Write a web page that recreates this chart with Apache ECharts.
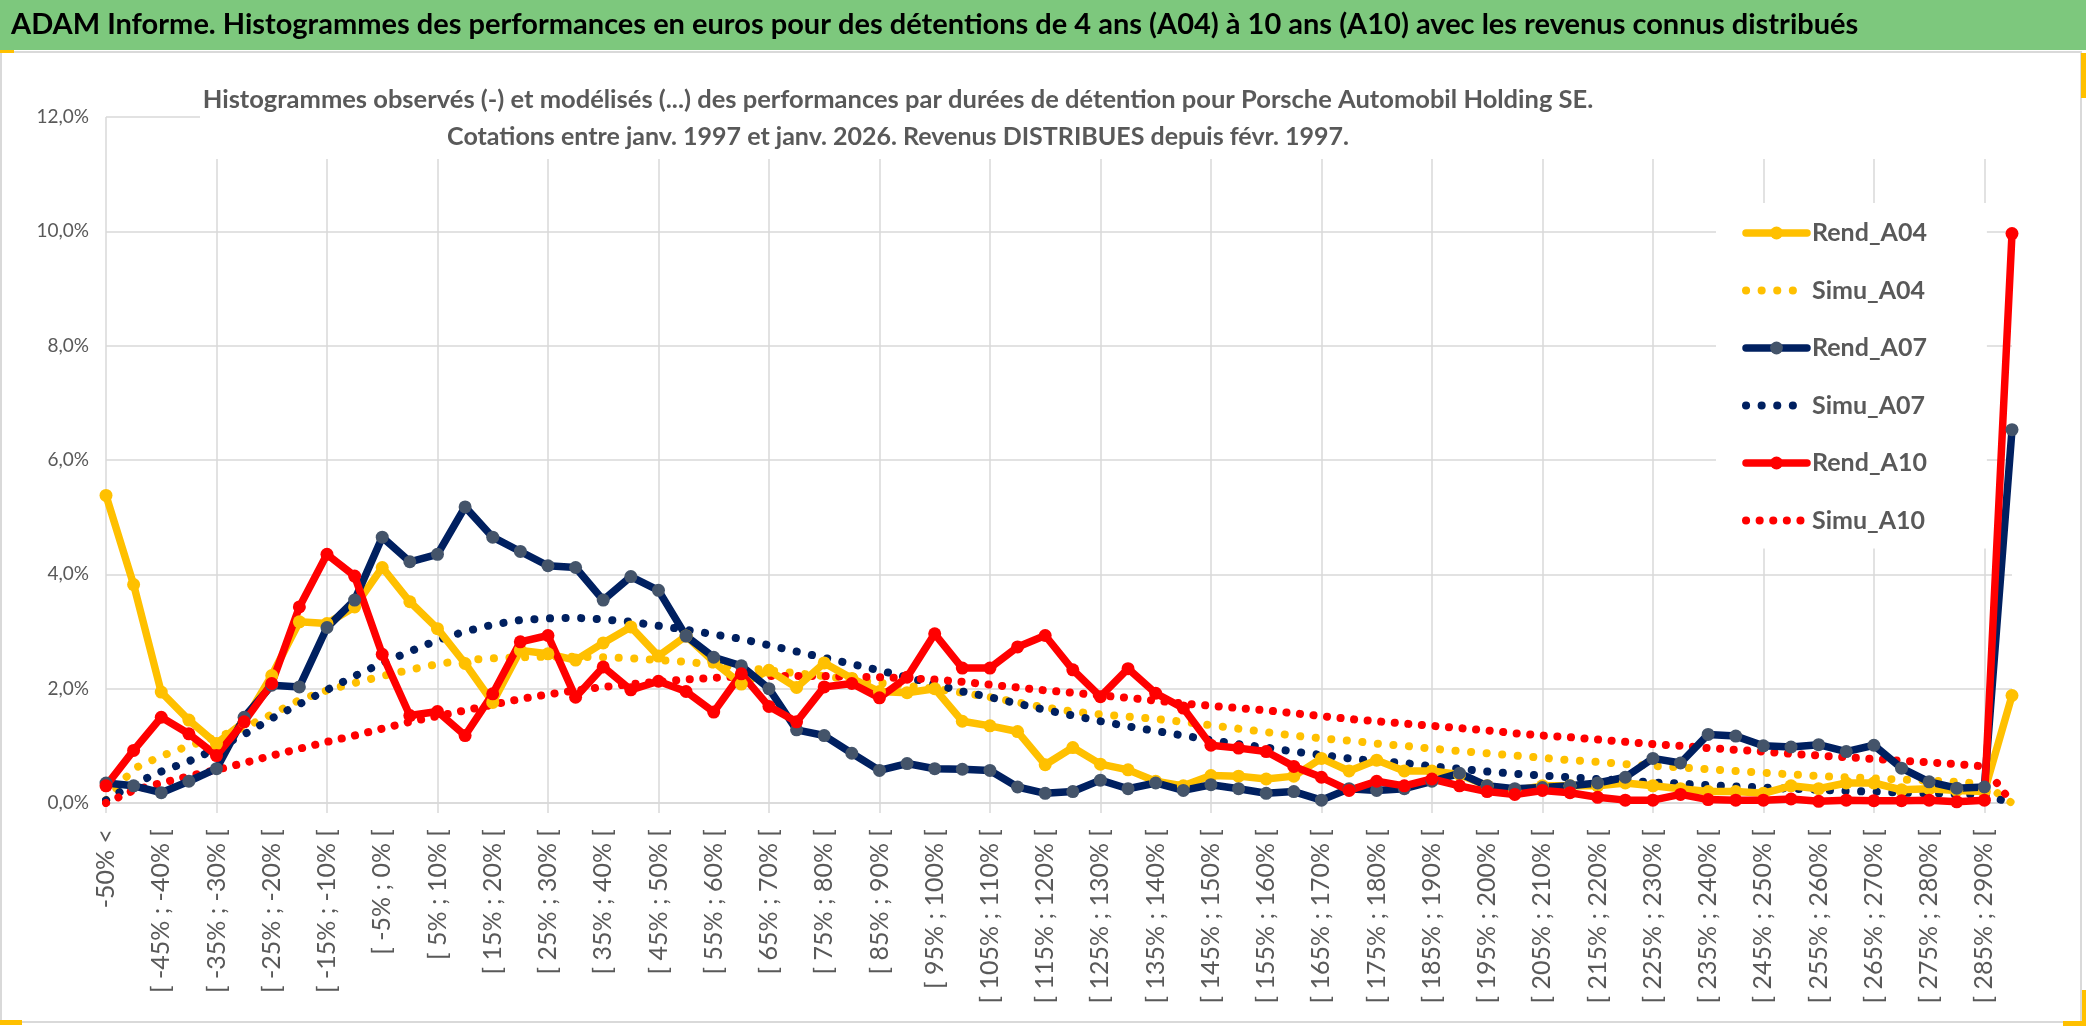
<!DOCTYPE html>
<html><head><meta charset="utf-8">
<script src="https://cdn.jsdelivr.net/npm/echarts@6/dist/echarts.min.js"></script>
<style>html,body{margin:0;padding:0;background:#fff}#c{width:2086px;height:1031px}</style>
</head><body><div id="c"></div>
<script>
const categories = [
"-50% <","[ -50% ; -45% [","[ -45% ; -40% [","[ -40% ; -35% [","[ -35% ; -30% [","[ -30% ; -25% [",
"[ -25% ; -20% [","[ -20% ; -15% [","[ -15% ; -10% [","[ -10% ; -5% [","[ -5% ; 0% [",
"[ 0% ; 5% [","[ 5% ; 10% [","[ 10% ; 15% [","[ 15% ; 20% [","[ 20% ; 25% [","[ 25% ; 30% [",
"[ 30% ; 35% [","[ 35% ; 40% [","[ 40% ; 45% [","[ 45% ; 50% [","[ 50% ; 55% [","[ 55% ; 60% [",
"[ 60% ; 65% [","[ 65% ; 70% [","[ 70% ; 75% [","[ 75% ; 80% [","[ 80% ; 85% [","[ 85% ; 90% [",
"[ 90% ; 95% [","[ 95% ; 100% [","[ 100% ; 105% [","[ 105% ; 110% [","[ 110% ; 115% [","[ 115% ; 120% [",
"[ 120% ; 125% [","[ 125% ; 130% [","[ 130% ; 135% [","[ 135% ; 140% [","[ 140% ; 145% [","[ 145% ; 150% [",
"[ 150% ; 155% [","[ 155% ; 160% [","[ 160% ; 165% [","[ 165% ; 170% [","[ 170% ; 175% [","[ 175% ; 180% [",
"[ 180% ; 185% [","[ 185% ; 190% [","[ 190% ; 195% [","[ 195% ; 200% [","[ 200% ; 205% [","[ 205% ; 210% [",
"[ 210% ; 215% [","[ 215% ; 220% [","[ 220% ; 225% [","[ 225% ; 230% [","[ 230% ; 235% [","[ 235% ; 240% [",
"[ 240% ; 245% [","[ 245% ; 250% [","[ 250% ; 255% [","[ 255% ; 260% [","[ 260% ; 265% [","[ 265% ; 270% [",
"[ 270% ; 275% [","[ 275% ; 280% [","[ 280% ; 285% [","[ 285% ; 290% [","> 290%"];

const rendA04 = [5.38,3.82,1.94,1.45,1.04,1.42,2.23,3.17,3.14,3.43,4.12,3.52,3.05,2.44,1.76,2.67,2.61,2.50,2.80,3.08,
2.57,2.92,2.47,2.08,2.32,2.02,2.45,2.18,1.95,1.93,2.00,1.43,1.35,1.25,0.67,0.97,0.68,0.58,0.38,0.30,
0.48,0.47,0.42,0.47,0.78,0.56,0.75,0.56,0.56,0.50,0.30,0.22,0.30,0.30,0.30,0.35,0.30,0.25,0.20,0.20,
0.17,0.30,0.25,0.35,0.35,0.23,0.25,0.22,0.20,1.88];
const simuA04 = [0.05,0.60,0.82,1.00,1.15,1.32,1.55,1.80,1.97,2.10,2.22,2.33,2.43,2.50,2.53,2.55,2.56,2.56,2.55,2.53,
2.50,2.47,2.42,2.37,2.32,2.27,2.22,2.16,2.10,2.05,2.00,1.93,1.85,1.76,1.67,1.60,1.55,1.51,1.47,1.42,
1.36,1.30,1.24,1.18,1.13,1.09,1.04,1.00,0.95,0.91,0.87,0.83,0.79,0.75,0.72,0.68,0.65,0.62,0.59,0.56,
0.53,0.50,0.47,0.45,0.43,0.41,0.39,0.37,0.33,0.00];
const rendA07 = [0.35,0.30,0.18,0.38,0.60,1.50,2.06,2.03,3.07,3.55,4.65,4.22,4.35,5.18,4.65,4.40,4.15,4.12,3.55,3.96,
3.72,2.92,2.55,2.40,2.00,1.28,1.18,0.87,0.57,0.69,0.60,0.59,0.57,0.28,0.17,0.20,0.40,0.25,0.35,0.22,
0.32,0.25,0.17,0.20,0.05,0.25,0.22,0.25,0.38,0.52,0.30,0.25,0.27,0.30,0.35,0.45,0.78,0.70,1.20,1.17,
1.00,0.98,1.02,0.90,1.01,0.61,0.37,0.26,0.28,6.53];
const simuA07 = [0.05,0.33,0.55,0.73,0.95,1.20,1.48,1.73,1.98,2.22,2.45,2.65,2.85,3.00,3.12,3.20,3.23,3.24,3.21,3.17,
3.10,3.03,2.95,2.87,2.76,2.65,2.54,2.43,2.32,2.20,2.08,1.95,1.85,1.74,1.63,1.53,1.43,1.34,1.26,1.18,
1.10,1.03,0.97,0.90,0.84,0.78,0.73,0.70,0.64,0.60,0.55,0.51,0.48,0.45,0.42,0.39,0.36,0.34,0.31,0.29,
0.27,0.25,0.23,0.21,0.20,0.18,0.17,0.16,0.14,0.00];
const rendA10 = [0.30,0.92,1.50,1.21,0.83,1.42,2.09,3.43,4.35,3.97,2.60,1.53,1.60,1.18,1.91,2.82,2.93,1.85,2.38,1.98,
2.13,1.95,1.59,2.26,1.69,1.42,2.03,2.09,1.84,2.20,2.96,2.36,2.36,2.73,2.93,2.33,1.86,2.35,1.92,1.66,
1.01,0.96,0.90,0.64,0.45,0.22,0.38,0.30,0.42,0.30,0.20,0.15,0.22,0.18,0.10,0.05,0.05,0.15,0.06,0.05,
0.05,0.07,0.03,0.05,0.04,0.04,0.05,0.02,0.05,9.96];
const simuA10 = [0.00,0.22,0.35,0.47,0.58,0.70,0.83,0.95,1.07,1.18,1.30,1.42,1.52,1.62,1.72,1.82,1.90,1.97,2.03,2.08,
2.12,2.16,2.19,2.21,2.22,2.22,2.22,2.21,2.20,2.18,2.16,2.12,2.07,2.02,1.97,1.93,1.88,1.84,1.79,1.74,
1.70,1.66,1.62,1.57,1.52,1.47,1.43,1.39,1.35,1.31,1.27,1.22,1.18,1.15,1.11,1.07,1.03,1.00,0.96,0.93,
0.90,0.86,0.83,0.80,0.77,0.74,0.71,0.68,0.64,0.00];

const titleText = "ADAM Informe. Histogrammes des performances en euros pour des détentions de 4 ans (A04) à 10 ans (A10) avec les revenus connus distribués";
const subLine1 = "Histogrammes observés (-) et modélisés (...) des performances par durées de détention pour Porsche Automobil Holding SE.";
const subLine2 = "Cotations entre janv. 1997 et janv. 2026. Revenus DISTRIBUES depuis févr. 1997.";

const YEL = '#FFC000', NAVY = '#002060', NAVYM = '#44546A', RED = '#FF0000', GRID = '#D9D9D9', TXT = '#595959';
const FONT = 'Lato, "Open Sans", sans-serif';

function rend(name, data, lineColor, markColor) {
  return { name, type: 'line', data, symbol: 'circle', symbolSize: 13, showSymbol: true,
    lineStyle: { color: lineColor, width: 7.5 }, itemStyle: { color: markColor }, z: 3 };
}
function simu(name, data, color, gap) {
  return { name, type: 'line', data, symbol: 'none',
    lineStyle: { color, width: 8, type: [0.1, gap], cap: 'round' }, itemStyle: { color }, z: 2 };
}
const hideSym = { color: 'rgba(0,0,0,0)', borderWidth: 0, opacity: 0 };
const solidLeg = { width: 7.5, type: 'solid', cap: 'round' };
const dotLeg = gap => ({ width: 8, type: [0.1, gap], cap: 'round' });

const chart = echarts.init(document.getElementById('c'), null, { renderer: 'canvas' });
chart.setOption({
  animation: false,
  backgroundColor: '#fff',
  textStyle: { fontFamily: FONT },
  grid: { left: 106, right: 74, top: 117, bottom: 228, containLabel: false },
  xAxis: {
    type: 'category', data: categories, boundaryGap: false,
    axisLine: { show: true, lineStyle: { color: GRID, width: 1.5 } },
    axisTick: { show: true, interval: 3, length: 10, lineStyle: { color: GRID, width: 1.5 } },
    axisLabel: { interval: 1, rotate: 90, fontSize: 25, color: TXT, margin: 26, fontFamily: FONT },
    splitLine: { show: true, interval: 3, lineStyle: { color: GRID, width: 1.5 } }
  },
  yAxis: {
    type: 'value', min: 0, max: 12, interval: 2,
    axisLine: { show: false }, axisTick: { show: false },
    axisLabel: { fontSize: 19, color: TXT, margin: 17, fontFamily: FONT,
      formatter: v => v.toFixed(1).replace('.', ',') + '%' },
    splitLine: { lineStyle: { color: GRID, width: 1.5 } }
  },
  legend: {
    orient: 'vertical', left: 1716, top: 203,
    padding: [16, 60, 14, 26], itemGap: 29.5, itemWidth: 61, itemHeight: 16,
    backgroundColor: '#fff',
    textStyle: { fontSize: 25, fontWeight: 'bold', color: TXT, fontFamily: FONT, lineHeight: 28 },
    data: [
      { name: 'Rend_A04', lineStyle: solidLeg },
      { name: 'Simu_A04', itemStyle: hideSym, lineStyle: dotLeg(15.5) },
      { name: 'Rend_A07', lineStyle: solidLeg },
      { name: 'Simu_A07', itemStyle: hideSym, lineStyle: dotLeg(15.5) },
      { name: 'Rend_A10', lineStyle: solidLeg },
      { name: 'Simu_A10', itemStyle: hideSym, lineStyle: dotLeg(13.5) }
    ]
  },
  series: [
    rend('Rend_A04', rendA04, YEL, YEL),
    simu('Simu_A04', simuA04, YEL, 15.5),
    rend('Rend_A07', rendA07, NAVY, NAVYM),
    simu('Simu_A07', simuA07, NAVY, 15.5),
    rend('Rend_A10', rendA10, RED, RED),
    simu('Simu_A10', simuA10, RED, 13.5)
  ],
  graphic: [
    { type: 'rect', z: 10, shape: { x: 0, y: 0, width: 2086, height: 50 }, style: { fill: '#7DC87D' } },
    { type: 'text', z: 11, x: 11, y: 25, style: { text: titleText, font: 'bold 29px ' + FONT, fill: '#000', verticalAlign: 'middle' } },
    { type: 'rect', z: 10, shape: { x: 1, y: 52, width: 2080, height: 970 }, style: { fill: 'none', stroke: GRID, lineWidth: 2 } },
    { type: 'rect', z: 11, shape: { x: 0, y: 50, width: 14, height: 3 }, style: { fill: YEL } },
    { type: 'rect', z: 11, shape: { x: 2081, y: 53, width: 5, height: 45 }, style: { fill: YEL } },
    { type: 'rect', z: 11, shape: { x: 0, y: 1020, width: 22, height: 5 }, style: { fill: YEL } },
    { type: 'rect', z: 11, shape: { x: 2063, y: 1021, width: 23, height: 5 }, style: { fill: YEL } },
    { type: 'rect', z: 11, shape: { x: 2082, y: 990, width: 4, height: 36 }, style: { fill: YEL } },
    { type: 'rect', z: 10, shape: { x: 200, y: 80, width: 1816, height: 79 }, style: { fill: '#fff' } },
    { type: 'text', z: 11, x: 898, y: 100, style: { text: subLine1, font: 'bold 25.5px ' + FONT, fill: TXT, align: 'center', verticalAlign: 'middle' } },
    { type: 'text', z: 11, x: 898, y: 137, style: { text: subLine2, font: 'bold 25px ' + FONT, fill: TXT, align: 'center', verticalAlign: 'middle' } }
  ]
});
</script></body></html>
